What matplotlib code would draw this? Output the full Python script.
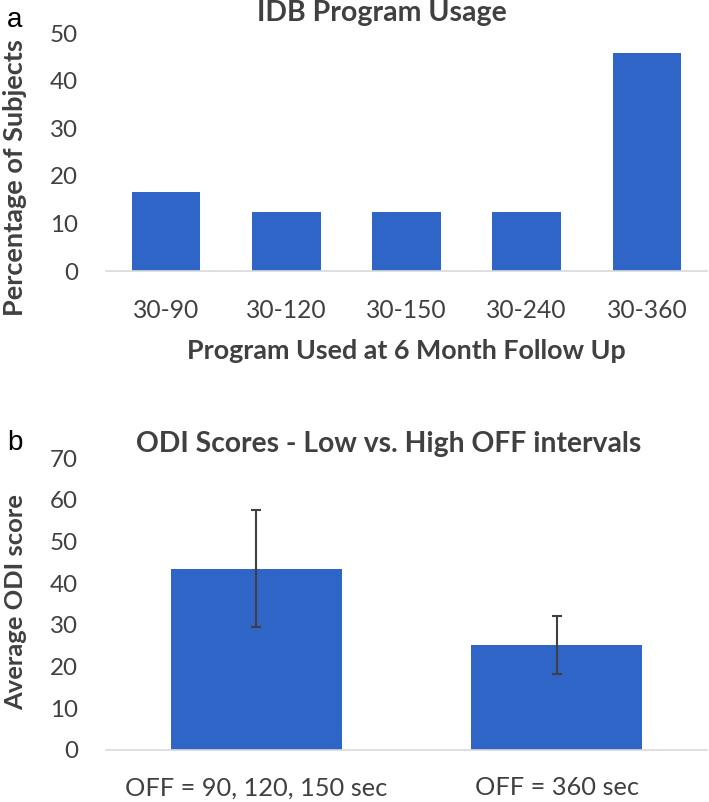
import matplotlib.pyplot as plt

# ---------------- DATA ----------------

programs = ['30-90', '30-120', '30-150', '30-240', '30-360']
usage_pct = [16.7, 12.5, 12.5, 12.5, 45.8]

groups = ['OFF = 90, 120, 150 sec', 'OFF = 360 sec']
odi_mean = [43.5, 25.1]
odi_err = [14.0, 7.0]

# ---------------- STYLE ----------------

plt.rcParams['font.family'] = ['Lato', 'DejaVu Sans']
bar_color = '#2E65C7'
text_color = '#404040'
axis_color = '#D9D9D9'
bold_size = 19.3

W, H = 709, 802
fig = plt.figure(figsize=(W / 100, H / 100), dpi=100)


def style_axes(ax, tick_pad, xsize):
    for side in ['left', 'right', 'top']:
        ax.spines[side].set_visible(False)
    ax.spines['bottom'].set_color(axis_color)
    ax.spines['bottom'].set_linewidth(1.2)
    ax.tick_params(axis='both', length=0, labelcolor=text_color)
    ax.tick_params(axis='y', pad=20, labelsize=17.5)
    ax.tick_params(axis='x', pad=tick_pad, labelsize=xsize)


# ---------------- PANEL A ----------------

ax1 = fig.add_axes([106 / W, 1 - 271 / H, 601 / W, 238 / H])
ax1.bar(range(len(programs)), usage_pct, width=0.57, color=bar_color)
ax1.set_xticks(range(len(programs)))
ax1.set_xticklabels(programs)
ax1.set_xlim(-0.5, len(programs) - 0.5)
ax1.set_ylim(0, 50)
ax1.set_yticks(range(0, 51, 10))
style_axes(ax1, 20.5, 18)

xlab_a = ax1.set_xlabel('Program Used at 6 Month Follow Up', fontsize=bold_size,
                        fontweight='bold', color=text_color, va='center')
ax1.xaxis.set_label_coords(0.5, -0.336)
ylab_a = ax1.set_ylabel('Percentage of Subjects', fontsize=bold_size,
                        fontweight='bold', color=text_color, va='center')
ax1.yaxis.set_label_coords(-0.151, 0.391)

title_a = fig.text(382 / W, 1 - 13 / H, 'IDB Program Usage', fontsize=bold_size,
                   fontweight='bold', color=text_color, ha='center', va='center')
fig.text(15 / W, 1 - 20 / H, 'a', fontsize=20, family='Liberation Sans',
         ha='center', va='center')

# ---------------- PANEL B ----------------

ax2 = fig.add_axes([106 / W, 1 - 750 / H, 601 / W, 292 / H])
ax2.bar(range(len(groups)), odi_mean, width=0.57, color=bar_color)
ax2.errorbar(range(len(groups)), odi_mean, yerr=odi_err, fmt='none',
             ecolor=text_color, elinewidth=1.5, capsize=3.6, capthick=1.5)
ax2.set_xticks(range(len(groups)))
ax2.set_xticklabels(groups)
ax2.set_xlim(-0.5, len(groups) - 0.5)
ax2.set_ylim(0, 70)
ax2.set_yticks(range(0, 71, 10))
style_axes(ax2, 19, 19.5)

ylab_b = ax2.set_ylabel('Average ODI score', fontsize=bold_size,
                        fontweight='bold', color=text_color, va='center')
ax2.yaxis.set_label_coords(-0.151, 0.507)

title_b = fig.text(389 / W, 1 - 444 / H, 'ODI Scores - Low vs. High OFF intervals',
                   fontsize=bold_size, fontweight='bold', color=text_color,
                   ha='center', va='center')
fig.text(15 / W, 1 - 443 / H, 'b', fontsize=20, family='Liberation Sans',
         ha='center', va='center')

# ---------------- MATCH TEXT WIDTHS (px in the reference) ----------------

fig.canvas.draw()
r = fig.canvas.get_renderer()


def text_px(t):
    bb = t.get_window_extent(r)
    return max(bb.width, bb.height)


for t, target in [(title_a, 249), (xlab_a, 437), (ylab_a, 277),
                  (title_b, 502), (ylab_b, 215)]:
    t.set_fontsize(t.get_fontsize() * target / text_px(t))

xt_a = ax1.get_xticklabels()[0]
ax1.tick_params(axis='x', labelsize=xt_a.get_fontsize() * 66 / text_px(xt_a))
yt = ax1.get_yticklabels()[-1]
ysize = yt.get_fontsize() * 28 / text_px(yt)
ax1.tick_params(axis='y', labelsize=ysize)
ax2.tick_params(axis='y', labelsize=ysize)
xt_b = ax2.get_xticklabels()[0]
ax2.tick_params(axis='x', labelsize=xt_b.get_fontsize() * 262 / text_px(xt_b))

fig.savefig('out.png', dpi=100)
